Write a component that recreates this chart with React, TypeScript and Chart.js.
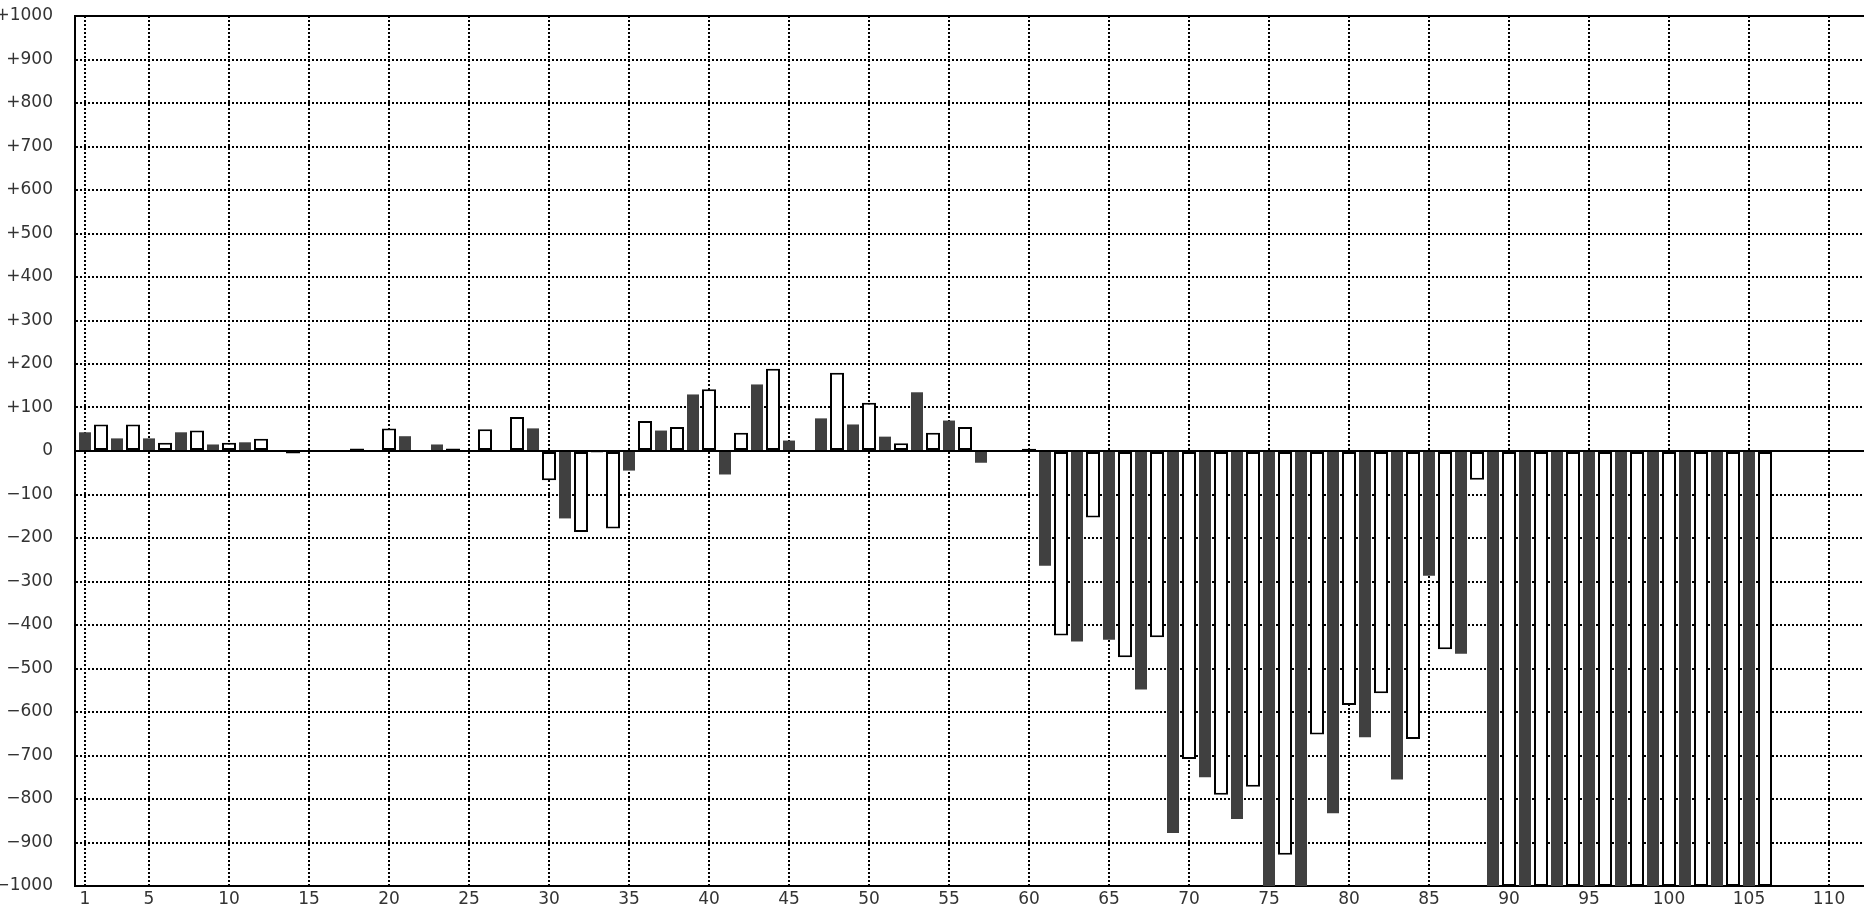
import React, { useEffect, useRef } from "react";
import { Chart, registerables } from "chart.js";

Chart.register(...registerables);

// Values for odd positions 1,3,5,...,105 (dark bars)
const darkValues: (number | null)[] = [
  43, 29, 29, 43, 15, 20, null, null, null, null, 34, 15, null, null, 52,
  -155, -3, -45, 47, 130, -54, 153, 24, 75, 61, 33, 135, 70, -27, null,
  -264, -438, -434, -548, -878, -750, -846, -1000, -1000, -833, -658, -755, -287, -466,
  -1000, -1000, -1000, -1000, -1000, -1000, -1000, -1000, -1000,
];

// Values for even positions 2,4,6,...,106 (white bars)
const lightValues: (number | null)[] = [
  61, 61, 19, 47, 19, 28, -6, null, 6, 52, null, 6, 50, 78, -67,
  -186, -178, 69, 55, 142, 42, 189, null, 180, 111, 18, 42, 55, null, 5,
  -424, -153, -474, -428, -708, -790, -772, -928, -652, -584, -557, -662, -456, -66,
  -1000, -1000, -1000, -1000, -1000, -1000, -1000, -1000, -1000,
];

const xTickValues = [1, 5, 10, 15, 20, 25, 30, 35, 40, 45, 50, 55, 60, 65, 70, 75, 80, 85, 90, 95, 100, 105, 110];

const X_MIN = 0.375;
const X_MAX = 112.1875;
const Y_MIN = -1000;
const Y_MAX = 1000;

const framePlugin = {
  id: "frame",
  beforeDatasetsDraw(chart: any) {
    const { ctx, chartArea, scales } = chart;
    const y0 = Math.round(scales.y.getPixelForValue(0));
    ctx.save();
    ctx.strokeStyle = "#000";
    ctx.lineWidth = 2;
    ctx.setLineDash([]);
    ctx.beginPath();
    ctx.moveTo(chartArea.left, y0);
    ctx.lineTo(chartArea.right, y0);
    ctx.moveTo(chartArea.left, Math.round(chartArea.top));
    ctx.lineTo(chartArea.right, Math.round(chartArea.top));
    ctx.stroke();
    ctx.restore();
  },
};

export default function App() {
  const ref = useRef<HTMLCanvasElement | null>(null);

  useEffect(() => {
    if (!ref.current) return;
    const darkPoints = darkValues.map((v, i) => ({ x: 2 * i + 1, y: v }));
    const lightPoints = lightValues.map((v, i) => ({ x: 2 * i + 2, y: v }));
    const font = { family: "'DejaVu Sans'", size: 17 };

    const chart = new Chart(ref.current, {
      type: "bar",
      data: {
        datasets: [
          {
            data: darkPoints as any,
            backgroundColor: "#404040",
            borderWidth: 0,
            barThickness: 12,
            grouped: false,
            inflateAmount: 0,
          } as any,
          {
            data: lightPoints as any,
            backgroundColor: "#ffffff",
            borderColor: "#000000",
            borderWidth: 2,
            borderSkipped: false,
            barThickness: 14,
            grouped: false,
            inflateAmount: 0,
          } as any,
        ],
      },
      options: {
        animation: false,
        responsive: false,
        events: [],
        layout: { padding: { top: 16, right: 0, bottom: 0, left: 0 } },
        plugins: { legend: { display: false }, tooltip: { enabled: false } },
        scales: {
          x: {
            type: "linear",
            min: X_MIN,
            max: X_MAX,
            offset: false,
            afterBuildTicks: (scale: any) => {
              scale.ticks = xTickValues.map((v) => ({ value: v }));
            },
            afterFit: (scale: any) => {
              scale.height = 22;
              scale.paddingLeft = 0;
              scale.paddingRight = 0;
              scale.paddingTop = 0;
              scale.paddingBottom = 0;
            },
            grid: { color: "#000", lineWidth: 2, drawTicks: false, offset: false },
            border: { display: true, color: "#000", width: 2, dash: [2, 2] },
            ticks: {
              autoSkip: false,
              maxRotation: 0,
              padding: 3,
              color: "#333",
              font,
              callback: (v: any) => String(v),
            },
          },
          y: {
            type: "linear",
            min: Y_MIN,
            max: Y_MAX,
            afterFit: (scale: any) => {
              scale.width = 75;
              scale.paddingTop = 0;
              scale.paddingBottom = 0;
              scale.paddingLeft = 0;
              scale.paddingRight = 0;
            },
            grid: { color: "#000", lineWidth: 2, drawTicks: false },
            border: { display: true, color: "#000", width: 2, dash: [2, 2] },
            ticks: {
              stepSize: 100,
              padding: 22,
              color: "#333",
              font,
              callback: (v: any) => {
                const n = Number(v);
                if (n > 0) return "+" + n;
                if (n < 0) return "\u2212" + Math.abs(n);
                return "0";
              },
            },
          },
        },
      } as any,
      plugins: [framePlugin],
    });
    return () => chart.destroy();
  }, []);

  return (
    <div style={{ position: "absolute", left: 0, top: 0, width: 1864, height: 908, background: "#fff" }}>
      <canvas ref={ref} width={1864} height={908} style={{ display: "block" }} />
    </div>
  );
}
